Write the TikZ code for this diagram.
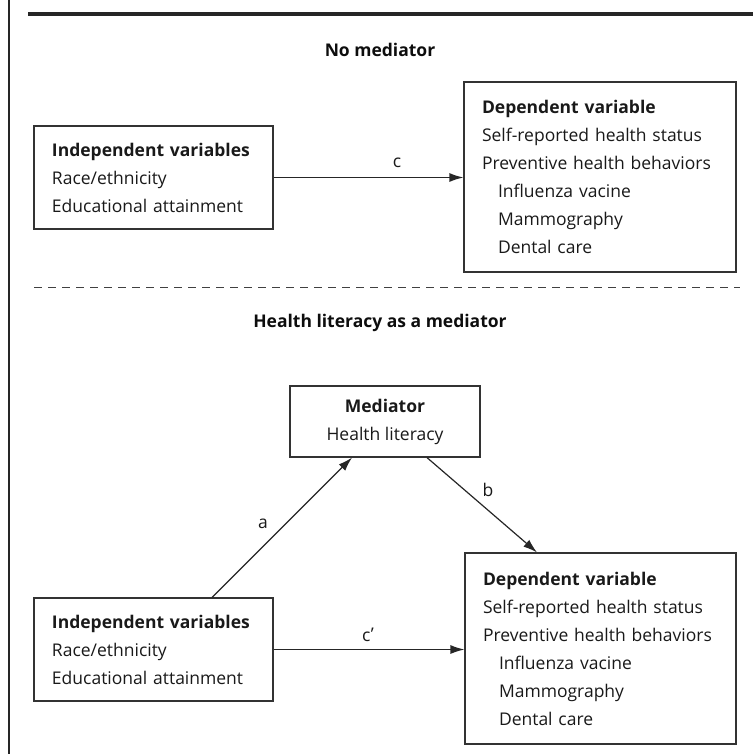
\documentclass[tikz,border=0pt]{standalone}
\usepackage{fontspec}
\setmainfont{Open Sans}
\usetikzlibrary{arrows.meta}
\usetikzlibrary{positioning}

\begin{document}
\begin{tikzpicture}[x=1bp,y=-1bp]
	%\draw[help lines,step=50] (0,0) grid (753,756);
	\useasboundingbox (0,0) rectangle (753,756);

	\tikzstyle{vbox} = [rectangle,draw=black!80,line width=1.2bp,align=left,inner xsep=18bp,font=\fontsize{17.5bp}{28bp}\selectfont,text=black!90]
	\tikzstyle{title} = [font=\fontsize{17.5bp}{20bp}\selectfont\bfseries,text=black!95]
	\tikzstyle{elabel} = [font=\fontsize{17.5bp}{20bp}\selectfont,text=black!90]
	\tikzstyle{vedge} = [-{Latex[length=14bp,width=9bp]},line width=1.2bp,draw=black!85]

	% frame
	\draw[line width=1.2bp,black!85] (9,0) -- (9,754);
	\draw[line width=4.5bp,black!85] (28,14) -- (753,14);
	\draw[line width=1bp,black!75,dash pattern=on 8bp off 6bp] (34,287) -- (740,287);

	\node[title] (t1) at (380,50) {No mediator};
	\node[title] (t2) at (380,323) {Health literacy as a mediator};

	% no mediator
	\node[vbox,text width=203bp,minimum height=103bp] (indA) at (153.5,177.5)
		{\textbf{Independent variables}\\Race/ethnicity\\Educational attainment};
	\node[vbox,text width=236bp,minimum height=190bp] (depA) at (600,177)
		{\textbf{Dependent variable}\\Self-reported health status\\Preventive health behaviors\\
		\hspace*{16bp}Influenza vacine\\\hspace*{16bp}Mammography\\\hspace*{16bp}Dental care};

	% mediator
	\node[vbox,align=center,inner xsep=0bp,minimum width=190bp,minimum height=71bp] (med) at (385,421.5)
		{\textbf{Mediator}\\Health literacy};
	\node[vbox,text width=203bp,minimum height=103bp] (indB) at (153.5,649.5)
		{\textbf{Independent variables}\\Race/ethnicity\\Educational attainment};
	\node[vbox,text width=235bp,minimum height=191bp] (depB) at (600.5,648.5)
		{\textbf{Dependent variable}\\Self-reported health status\\Preventive health behaviors\\
		\hspace*{16bp}Influenza vacine\\\hspace*{16bp}Mammography\\\hspace*{16bp}Dental care};

	\node[elabel] (lc) at (397,163) {c};
	\node[elabel] (la) at (263,524) {a};
	\node[elabel] (lb) at (488,490) {b};
	\node[elabel] (lcp) at (368,635) {c\kern0.5bp\raisebox{0.5bp}{\textquoteright}};

	\draw[vedge] (indA.east) -- (indA.east -| depA.west);
	\draw[vedge] ([xshift=58.5bp]indB.north) -- ([xshift=-33bp]med.south);
	\draw[vedge] ([xshift=42bp]med.south) -- ([xshift=-63.5bp]depB.north);
	\draw[vedge] (indB.east) -- (indB.east -| depB.west);

\end{tikzpicture}
\end{document}
